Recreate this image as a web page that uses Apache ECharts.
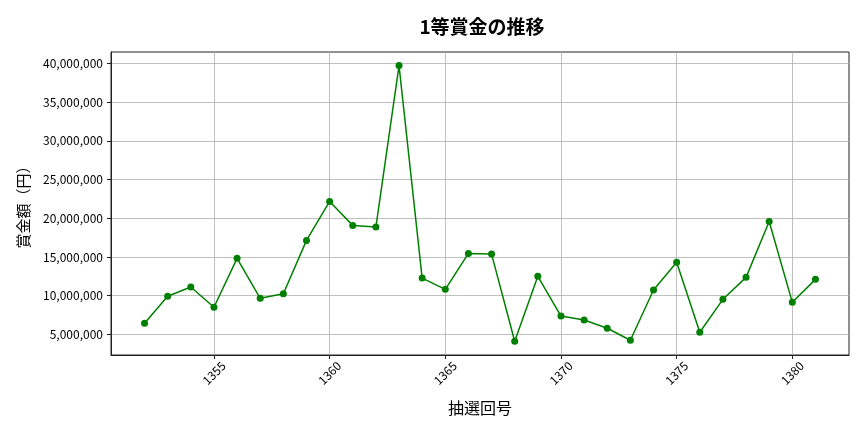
<!DOCTYPE html>
<html>
<head>
<meta charset="utf-8">
<script src="https://cdn.jsdelivr.net/npm/echarts@6/dist/echarts.min.js"></script>
<style>html,body{margin:0;padding:0;background:#fff}#c{width:864px;height:432px}</style>
</head>
<body>
<div id="c"></div>
<script>
const rounds = [1352,1353,1354,1355,1356,1357,1358,1359,1360,1361,1362,1363,1364,1365,1366,1367,1368,1369,1370,1371,1372,1373,1374,1375,1376,1377,1378,1379,1380,1381];
const prizes = [6420000,9910000,11110000,8490000,14820000,9650000,10240000,17140000,22180000,19080000,18860000,39740000,12270000,10810000,15460000,15370000,4100000,12490000,7360000,6850000,5780000,4230000,10720000,14300000,5260000,9520000,12360000,19590000,9130000,12100000];
const xTicks = [1355,1360,1365,1370,1375,1380];
const yTicks = [5000000,10000000,15000000,20000000,25000000,30000000,35000000,40000000];

const FONT = 'Noto Sans CJK JP';
const chart = echarts.init(document.getElementById('c'), null, {renderer:'canvas'});
const fmt = v => String(v).replace(/\B(?=(\d{3})+(?!\d))/g, ',');
chart.setOption({
  animation:false,
  backgroundColor:'#fff',
  textStyle:{fontFamily:FONT},
  title:{text:'1等賞金の推移', left:477, top:12, textAlign:'center',
    textStyle:{fontFamily:FONT, fontSize:19, fontWeight:'bold', color:'#000'}},
  grid:{left:111, right:15, top:52, bottom:77, show:true, borderColor:'#222', borderWidth:1, backgroundColor:'transparent'},
  xAxis:{type:'value', min:1350.55, max:1382.45,
    name:'抽選回号', nameLocation:'middle', nameGap:45,
    nameTextStyle:{fontFamily:FONT, fontSize:16, color:'#000'},
    axisLine:{show:true, onZero:false, lineStyle:{color:'#222', width:1}},
    axisTick:{show:true, length:4, customValues:xTicks, lineStyle:{color:'#222'}},
    axisLabel:{customValues:xTicks, rotate:45, align:'center', verticalAlign:'middle', margin:18,
      fontFamily:FONT, fontSize:12, color:'#000', formatter:v=>String(v)},
    splitLine:{show:true, lineStyle:{color:'#b0b0b0', width:0.8}}
  },
  yAxis:{type:'value', min:2320000, max:41500000,
    name:'賞金額（円）', nameLocation:'middle', nameGap:80, nameRotate:90,
    nameTextStyle:{fontFamily:FONT, fontSize:15, color:'#000'},
    axisLine:{show:true, onZero:false, lineStyle:{color:'#222', width:1}},
    axisTick:{show:true, length:4, customValues:yTicks, lineStyle:{color:'#222'}},
    axisLabel:{customValues:yTicks, margin:8, fontFamily:FONT, fontSize:12, color:'#000', formatter:v=>fmt(v)},
    splitLine:{show:true, lineStyle:{color:'#b0b0b0', width:0.8}}
  },
  series:[{type:'line', data:rounds.map((r,i)=>[r,prizes[i]]),
    symbol:'circle', symbolSize:7, showSymbol:true,
    itemStyle:{color:'#008000'}, lineStyle:{color:'#008000', width:1.5}}]
});
</script>
</body>
</html>
